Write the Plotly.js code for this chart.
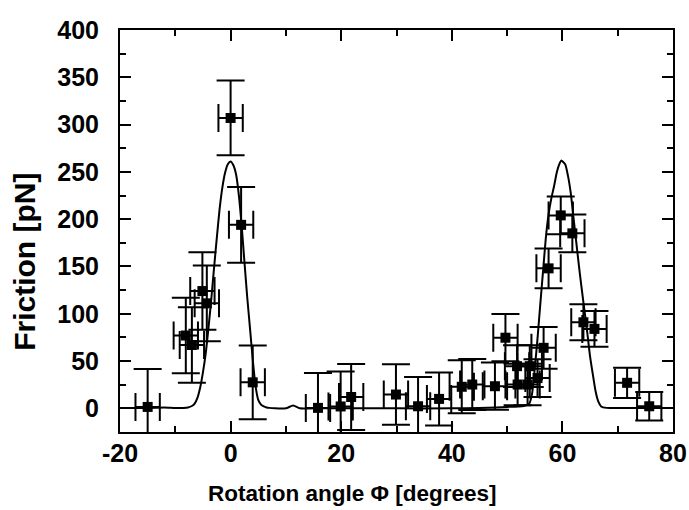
<!DOCTYPE html>
<html>
<head>
<meta charset="utf-8">
<script src="https://cdn.plot.ly/plotly-3.0.1.min.js"></script>
<style>html,body{margin:0;padding:0;background:#fff;}#chart{width:689px;height:510px;}</style>
</head>
<body>
<div id="chart"></div>
<script>
// Measured data points
var angle    = [-15.0, -8.1, -7.0, -5.1, -4.3, 0.0, 1.9, 4.0, 15.8, 19.9, 21.8, 29.9, 33.9, 37.7, 41.8, 43.7, 47.8, 49.7, 51.8, 51.9, 53.7, 54.1, 55.5, 56.6, 57.5, 59.7, 61.8, 63.8, 65.8, 71.7, 75.7];
var friction = [1.5, 77, 67, 124, 111, 307, 194, 27.5, 0.5, 2, 12, 14.6, 2.2, 10, 22.8, 25.2, 23.4, 74.7, 44.6, 25.2, 25.2, 44.6, 32, 64, 148, 204, 185, 91, 84, 27, 2.2];
var frictionErr = [40, 40, 40, 41, 40, 39.5, 40, 39, 37, 37, 35, 32, 31, 28, 28, 27, 25, 25, 22, 22, 22, 22, 20, 22, 21, 20, 20, 19, 19, 16, 15];
var angleErr = [2.2, 2.2, 2.2, 2.2, 2.2, 2.2, 2.2, 2.2, 2.2, 2.2, 2.2, 2.2, 2.2, 2.2, 2.2, 2.2, 2.2, 2.2, 2.2, 2.2, 2.2, 2.2, 2.2, 2.2, 2.2, 2.2, 2.2, 2.2, 2.2, 2.2, 2.2];

// Fitted curve
var fitX = [-20, -15, -12, -10, -8.5, -7.7, -7, -6.5, -6, -5.5, -5, -4.5, -4, -3.5, -3, -2.5, -2, -1.5, -1, -0.5, 0, 0.5, 1, 1.5, 2, 2.5, 3, 3.5, 4, 4.5, 5, 5.5, 6, 6.5, 7, 8, 10, 11.3, 12.5, 15, 20, 30, 40, 45, 48, 50, 52, 53, 54, 54.5, 55, 55.5, 56, 56.5, 57, 57.5, 58, 58.5, 59, 59.5, 59.8, 60.5, 61, 61.5, 62, 62.5, 63, 63.5, 64, 64.5, 65, 65.5, 66, 66.5, 67, 68, 70, 75, 80];
var fitY = [0.5, 0.5, 1, 0.5, 0.5, 1, 2.5, 5, 11, 22, 38, 58, 85, 115, 148, 180, 210, 233, 249, 258, 261, 257, 247, 225, 193, 155, 118, 85, 52, 24, 9, 4, 2, 1, 0.5, 0, 0, 3, 0, 0, 0, 0, 0, 0.5, 1, 1.5, 2, 2.5, 5, 15, 42, 74, 110, 145, 180, 205, 222, 235, 250, 259, 262, 258, 246, 228, 202, 176, 150, 126, 103, 80, 55, 36, 18, 7, 2, 0.5, 0.5, 0.5, 0.5];

var xTicks = [-20, 0, 20, 40, 60, 80];
var yTicks = [0, 50, 100, 150, 200, 250, 300, 350, 400];
var xTitle = 'Rotation angle Φ [degrees]';
var yTitle = 'Friction [pN]';

var fitTrace = {
  x: fitX, y: fitY, type: 'scatter', mode: 'lines',
  line: {color: '#000', width: 2, shape: 'spline', smoothing: 0.6},
  hoverinfo: 'skip', showlegend: false
};
var dataTrace = {
  x: angle, y: friction, type: 'scatter', mode: 'markers',
  marker: {symbol: 'square', size: 10, color: '#000'},
  error_y: {type: 'data', array: frictionErr, visible: true, color: '#000', thickness: 2, width: 14},
  error_x: {type: 'data', array: angleErr, visible: true, color: '#000', thickness: 2, width: 14},
  showlegend: false
};

var FONT = 'Liberation Sans, Arial, sans-serif';
var tickFont = {family: FONT, size: 25, color: '#000', weight: 'bold'};

var layout = {
  width: 689, height: 510,
  margin: {l: 120, r: 16, t: 30, b: 78},
  paper_bgcolor: '#fff', plot_bgcolor: '#fff',
  showlegend: false,
  xaxis: {
    range: [-20, 80], tickvals: xTicks, ticktext: xTicks.map(String),
    ticks: 'inside', ticklen: 11, tickwidth: 2, tickcolor: '#000',
    showline: true, linewidth: 2, linecolor: '#000', mirror: 'ticks',
    showgrid: false, zeroline: false,
    tickfont: tickFont, ticklabelstandoff: -2,
    minor: {dtick: 10, tick0: 0, ticks: 'inside', ticklen: 6, tickwidth: 2, tickcolor: '#000', showgrid: false}
  },
  yaxis: {
    range: [-25, 400], tickvals: yTicks, ticktext: yTicks.map(String),
    ticks: 'inside', ticklen: 11, tickwidth: 2, tickcolor: '#000',
    showline: true, linewidth: 2, linecolor: '#000', mirror: 'ticks',
    showgrid: false, zeroline: false,
    tickfont: tickFont, ticklabelstandoff: 14,
    minor: {dtick: 25, tick0: 0, ticks: 'inside', ticklen: 6, tickwidth: 2, tickcolor: '#000', showgrid: false}
  },
  annotations: [
    {text: xTitle, xref: 'paper', yref: 'paper', x: 0.4204, y: -0.152, xanchor: 'center', yanchor: 'middle',
     showarrow: false, font: {family: FONT, size: 22.5, color: '#000', weight: 'bold'}},
    {text: yTitle, xref: 'paper', yref: 'paper', x: -0.172, y: 0.423, xanchor: 'center', yanchor: 'middle',
     textangle: -90, showarrow: false, font: {family: FONT, size: 30, color: '#000', weight: 'bold'}}
  ]
};

Plotly.newPlot('chart', [fitTrace, dataTrace], layout, {staticPlot: true, displayModeBar: false});
</script>
</body>
</html>
